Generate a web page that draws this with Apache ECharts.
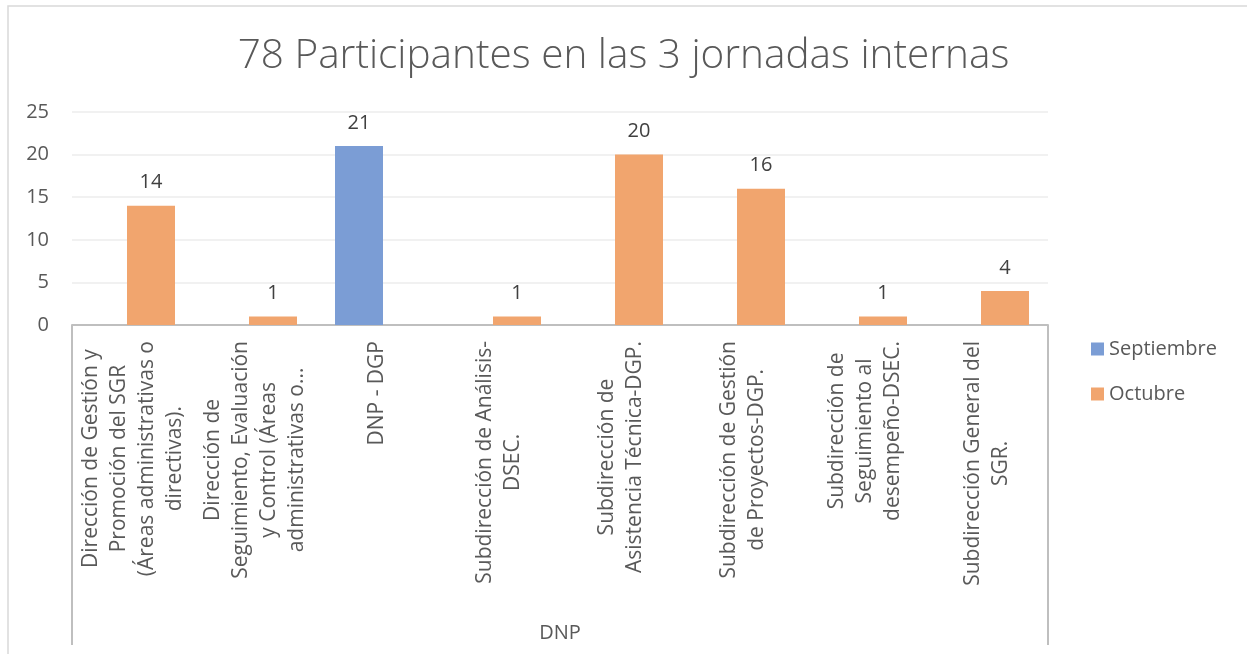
<!DOCTYPE html>
<html lang="es">
<head>
    <meta charset="utf-8">
    <title>Participantes</title>
    <script src="https://cdn.jsdelivr.net/npm/echarts@6/dist/echarts.min.js"></script>
    <style>
        html, body { margin: 0; padding: 0; background: #fff; }
    </style>
</head>
<body>

<div id="main" style="width:1247px;height:654px;"></div>

<script type="text/javascript">

    // datos
    var categorias = [
        'Dirección de Gestión y\nPromoción del SGR\n(Áreas administrativas o\ndirectivas).',
        'Dirección de\nSeguimiento, Evaluación\ny Control (Áreas\nadministrativas o...',
        'DNP - DGP',
        'Subdirección de Análisis-\nDSEC.',
        'Subdirección de\nAsistencia Técnica-DGP.',
        'Subdirección de Gestión\nde Proyectos-DGP.',
        'Subdirección de\nSeguimiento al\ndesempeño-DSEC.',
        'Subdirección General del\nSGR.'
    ];
    var septiembre = [null, null, 21, null, null, null, null, null];
    var octubre = [14, 1, null, 1, 20, 16, 1, 4];
    var ticksY = [0, 25, 5]; // min, max, intervalo

    var gridL = 72, gridR = 1048, gridT = 112, gridB = 325;

    var myChart = echarts.init(document.getElementById('main'));

    var etiqueta = {
        show: true,
        position: 'top',
        distance: 13,
        color: '#404040',
        fontSize: 20,
        fontFamily: 'Open Sans'
    };

    option = {
        backgroundColor: '#ffffff',
        textStyle: { fontFamily: 'Open Sans' },
        title: {
            text: '78 Participantes en las 3 jornadas internas',
            left: 'center',
            top: 31,
            textStyle: {
                color: '#595959',
                fontSize: 40.5,
                fontWeight: 300,
                fontFamily: 'Open Sans'
            }
        },
        legend: {
            orient: 'vertical',
            left: 1086,
            top: 333,
            icon: 'rect',
            itemWidth: 13,
            itemHeight: 13,
            itemGap: 23,
            textStyle: { color: '#595959', fontSize: 20, lineHeight: 22 },
            data: ['Septiembre', 'Octubre']
        },
        grid: {
            left: gridL,
            right: 1247 - gridR,
            top: gridT,
            bottom: 654 - gridB,
            containLabel: false
        },
        xAxis: {
            type: 'category',
            data: categorias,
            name: 'DNP',
            nameLocation: 'middle',
            nameGap: 298,
            nameTextStyle: { color: '#595959', fontSize: 20 },
            axisLine: { lineStyle: { color: '#bfbfbf', width: 2 } },
            axisTick: { show: false },
            axisLabel: {
                interval: 0,
                rotate: 90,
                margin: 16,
                color: '#595959',
                fontSize: 21,
                formatter: function (v) {
                    return v.split('\n').map(function (l) { return '{c|' + l + '}'; }).join('\n');
                },
                rich: {
                    c: { align: 'center', color: '#595959', fontSize: 21, lineHeight: 28, fontFamily: 'Open Sans' }
                }
            }
        },
        yAxis: {
            type: 'value',
            min: ticksY[0],
            max: ticksY[1],
            interval: ticksY[2],
            axisLine: { show: false },
            axisTick: { show: false },
            axisLabel: { color: '#595959', fontSize: 20, margin: 23 },
            splitLine: { lineStyle: { color: '#ececec', width: 1.5 } }
        },
        graphic: [
            { type: 'rect', shape: { x: 8, y: 6, width: 1260, height: 670 }, style: { fill: 'none', stroke: '#d9d9d9', lineWidth: 1.5 }, silent: true },
            { type: 'line', shape: { x1: gridL, y1: gridB, x2: gridL, y2: 645 }, style: { stroke: '#bfbfbf', lineWidth: 2 }, silent: true },
            { type: 'line', shape: { x1: gridR, y1: gridB, x2: gridR, y2: 645 }, style: { stroke: '#bfbfbf', lineWidth: 2 }, silent: true }
        ],
        series: [{
            name: 'Septiembre',
            type: 'bar',
            barWidth: 48,
            barGap: '-25%',
            itemStyle: { color: '#7b9dd5' },
            label: etiqueta,
            data: septiembre
        }, {
            name: 'Octubre',
            type: 'bar',
            barWidth: 48,
            barGap: '-25%',
            itemStyle: { color: '#f1a56e' },
            label: etiqueta,
            data: octubre
        }]
    };

    myChart.setOption(option);

</script>

</body>
</html>
